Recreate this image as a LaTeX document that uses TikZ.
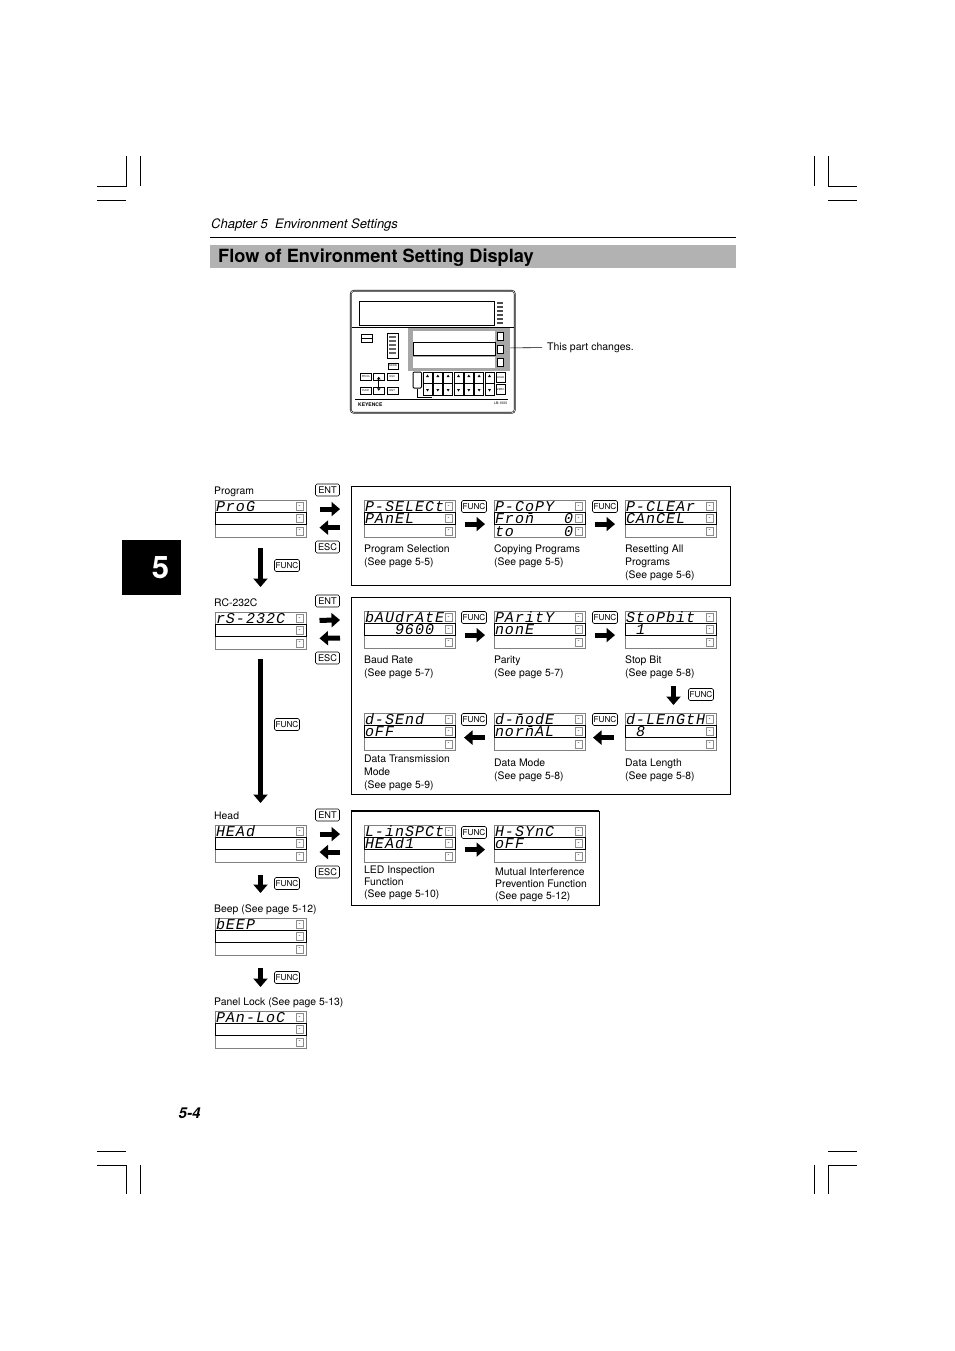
\documentclass[tikz,border=0pt]{standalone}
\usepackage{fontspec}
\setmainfont{TeX Gyre Heros}
\newfontfamily\lcdfont[LetterSpace=6.7]{Liberation Mono}
\usetikzlibrary{arrows.meta,positioning,calc}
\tikzset{
  lcd/row/.style={draw=black!50, line width=0.7pt, outer sep=0pt, inner xsep=1pt, inner ysep=0pt, text width=89pt, align=left, minimum height=12.4pt, text height=10pt, text depth=0pt, font=\lcdfont\itshape\fontsize{15}{15}\selectfont},
  lcd/mid/.style={lcd/row, draw=black, line width=1pt},
  lcd/key/.style={draw=black!45, fill=white, line width=0.5pt, minimum width=6.5pt, minimum height=8pt, inner sep=0pt, font=\fontsize{6}{6}\selectfont},
  flow/panel/.style={draw, line width=0.8pt, anchor=north west, inner sep=0pt},
  flow/arrow/.style={line width=5pt, -{Triangle[length=8.5pt,width=14pt]}},
  flow/caption/.style={inner sep=0pt, align=left, font=\fontsize{10.4}{13}\selectfont},
  flow/label/.style={flow/caption, text depth=2.2pt},
  flow/enter/.style={draw, rounded corners=1.5pt, line width=0.6pt, minimum width=24pt, minimum height=12pt, inner sep=0pt, font=\fontsize{9.2}{9.2}\selectfont},
  flow/func/.style={flow/enter, minimum width=25pt, font=\fontsize{8.2}{8.2}\selectfont},
  dev/box/.style={draw, line width=0.5pt, anchor=north west, inner sep=0pt, font=\fontsize{2.6}{3}\selectfont},
  dev/row/.style={dev/box, fill=white, minimum width=82pt},
  page/crop/.style={line width=0.5pt}
}
\newcommand{\lcdcell}{\hspace*{10pt}}
\newcommand{\lcdpanel}[6]{%
  \node[lcd/row, anchor=north west] (#1-top) at (#2,#3) {#4};
  \node[lcd/row, below=12.4pt of #1-top] (#1-bot) {#6};
  \node[lcd/mid, below=0pt of #1-top] (#1-mid) {#5};
  \node[lcd/key, left=3pt of #1-top.east] (#1-topkey) {-};
  \node[lcd/key, left=3pt of #1-mid.east] (#1-midkey) {-};
  \node[lcd/key, left=3pt of #1-bot.east] (#1-botkey) {-};
}

\begin{document}
\begin{tikzpicture}[x=1pt,y=-1pt]
  \useasboundingbox (0,0) rectangle (954,1351);

  \draw[page/crop] (97,186) -- (126,186) -- (126,156) (140,156) -- (140,186) (97,200) -- (126,200);
  \draw[page/crop] (814,156) -- (814,186) (828,156) -- (828,186) -- (857,186) (828,200) -- (857,200);
  \draw[page/crop] (97,1151) -- (126,1151) (97,1165) -- (126,1165) -- (126,1194) (140,1165) -- (140,1194);
  \draw[page/crop] (828,1151) -- (857,1151) (857,1165) -- (828,1165) -- (828,1194) (814,1165) -- (814,1194);

  \node[fill=black, minimum width=59pt, minimum height=55pt, text=white, inner sep=0pt, font=\bfseries\fontsize{31}{31}\selectfont] (tab) at (151.5,567.5) {\hspace{18pt}5};
  \node[anchor=west, inner sep=0pt, font=\itshape\fontsize{13}{13}\selectfont] (chapter) at (211,225) {Chapter 5\ \ Environment Settings};
  \draw[line width=0.6pt] (210,237) -- (736,237);
  \node[fill=black!30, anchor=north west, minimum width=526pt, minimum height=23pt, inner sep=0pt] (titlebar) at (210,245) {};
  \node[anchor=west, inner sep=0pt, font=\bfseries\fontsize{18.2}{18.2}\selectfont] (title) at (218,257.5) {Flow of Environment Setting Display};
  \node[anchor=west, inner sep=0pt, font=\bfseries\itshape\fontsize{15}{15}\selectfont] (pageno) at (178.5,1113) {5-4};

  \node[draw, double, double distance=0.5pt, line width=0.6pt, rounded corners=3pt, anchor=north west, minimum width=164pt, minimum height=122pt] (device) at (350.5,290.5) {};
  \node[dev/box, minimum width=135pt, minimum height=24pt] (devscreen) at (359,300.5) {};
  \draw[line width=0.7pt] (351.5,327.5) -- (514,327.5);
  \foreach \y in {302,306,310,314,318,322}
    \fill[black!70] (497,\y) rectangle (503,\y+1.5);
  \node[fill=black!35, anchor=north west, minimum width=102pt, minimum height=43.5pt, inner sep=0pt] (devarea) at (408,327.5) {};
  \node[dev/row, draw=none, minimum height=10.5pt] (devtop) at (412.5,331) {};
  \node[dev/row, line width=1pt, minimum height=13pt] (devmid) at (412.5,342) {};
  \node[dev/row, draw=none, minimum height=10.5pt] (devbot) at (412.5,357) {};
  \node[dev/box, fill=white, minimum width=6pt, minimum height=8pt] (devkeya) at (497,332) {};
  \node[dev/box, fill=white, minimum width=6pt, minimum height=8pt] (devkeyb) at (497,344.5) {};
  \node[dev/box, fill=white, minimum width=6pt, minimum height=8pt] (devkeyc) at (497,358) {};
  \node[anchor=west, inner sep=0pt, font=\fontsize{10.5}{13}\selectfont] (changes) at (547,347.5) {This part changes.};
  \draw[line width=0.6pt, shorten >=5pt] ([yshift=1.5pt]devarea.east) -- (changes.west);

  \node[dev/box, minimum width=11.5pt, minimum height=8pt] (devserial) at (360.5,334) {};
  \draw[line width=0.5pt] (devserial.west) -- (devserial.east);
  \node[dev/box, line width=1pt, minimum width=11pt, minimum height=25pt] (devlevel) at (386.5,333) {};
  \foreach \y in {336,340,344,348,352}
    \fill[black!60] (388.5,\y) rectangle (396,\y+1.5);
  \node[dev/box, minimum width=10pt, minimum height=5.5pt] (devmode) at (388,363) {MODE};
  \node[dev/box, minimum width=11pt, minimum height=7pt] (devprog) at (360,373) {PROG};
  \node[dev/box, minimum width=11pt, minimum height=7pt] (devup) at (373,373) {};
  \node[dev/box, minimum width=11pt, minimum height=7pt] (devesc) at (386.5,373) {ESC};
  \node[dev/box, minimum width=11pt, minimum height=7pt] (devfunc) at (360,387) {FUNC};
  \node[dev/box, minimum width=11pt, minimum height=7pt] (devdown) at (373,387) {};
  \node[dev/box, minimum width=11pt, minimum height=7pt] (devent) at (386.5,387) {ENT};
  \draw[line width=1pt, {Triangle[length=2.5pt,width=3.5pt]}-{Triangle[length=2.5pt,width=3.5pt]}] (devup.center) -- (devdown.center);
  \node[dev/box, line width=1pt, rounded corners=1pt, minimum width=8.5pt, minimum height=16pt] (devseg) at (412.5,371.5) {};
  \draw[line width=0.4pt] (devseg.south) |- (432,397);
  \foreach \x in {423,433.3,443.6,454,464.3,474.6,485} {
    \draw[line width=0.5pt] (\x,372) rectangle ++(9,11.5) (\x,383.5) rectangle ++(9,11.5);
    \fill (\x+3,377) -- (\x+6,377) -- (\x+4.5,374.5) -- cycle;
    \fill (\x+3,389) -- (\x+6,389) -- (\x+4.5,391.5) -- cycle;
  }
  \node[dev/box, minimum width=9pt, minimum height=10pt] (devhold) at (496,372) {HOLD};
  \node[dev/box, minimum width=9pt, minimum height=10pt] (devzero) at (496,384) {ZERO};
  \draw[line width=0.7pt] (355,399) -- (508,399);
  \node[anchor=west, inner sep=0pt, font=\bfseries\fontsize{5}{5}\selectfont] (keyence) at (358,404.5) {KEYENCE};
  \node[anchor=east, inner sep=0pt, font=\fontsize{3.5}{4}\selectfont] (model) at (507.5,403) {LB-1000};

  \node[flow/panel, minimum width=378.5pt, minimum height=98.5pt] (progpanel) at (351,486) {};
  \node[flow/panel, minimum width=378.5pt, minimum height=196.5pt] (rspanel) at (351,597) {};
  \node[flow/panel, minimum width=247.5pt, minimum height=93.5pt] (headpanel) at (351,811) {};
  \draw[line width=1.3pt] (headpanel.north west) -- (headpanel.north east);

  \lcdpanel{prog}{215}{500}{ProG}{}{}
  \lcdpanel{rsc}{215}{612}{rS-232C}{}{}
  \lcdpanel{head}{215}{825}{HEAd}{}{}
  \lcdpanel{beep}{215}{918}{bEEP}{}{}
  \lcdpanel{panlock}{215}{1011}{PAn-LoC}{}{}
  \lcdpanel{pselect}{364}{500}{P-SELECt}{PAnEL}{}
  \lcdpanel{pcopy}{494}{500}{P-CoPY}{Fro\=n\lcdcell\lcdcell\lcdcell 0}{to\lcdcell\lcdcell\lcdcell\lcdcell\lcdcell 0}
  \lcdpanel{pclear}{625}{500}{P-CLEAr}{CAnCEL}{}
  \lcdpanel{baud}{364}{611}{bAUdrAtE}{\lcdcell\lcdcell\lcdcell 9600}{}
  \lcdpanel{parity}{494}{611}{PAritY}{nonE}{}
  \lcdpanel{stopbit}{625}{611}{StoPbit}{\lcdcell 1}{}
  \lcdpanel{dsend}{364}{713}{d-SEnd}{oFF}{}
  \lcdpanel{dmode}{494}{713}{d-\=nodE}{nor\=nAL}{}
  \lcdpanel{dlength}{625}{713}{d-LEnGtH}{\lcdcell 8}{}
  \lcdpanel{linspect}{364}{825}{L-inSPCt}{HEAd1}{}
  \lcdpanel{hsync}{494}{825}{H-SYnC}{oFF}{}

  \node[flow/label, above right=3.5pt and -1pt of prog-top.north west] (proglabel) {Program};
  \node[flow/label, above right=3.5pt and -1pt of rsc-top.north west] (rsclabel) {RC-232C};
  \node[flow/label, above right=3.5pt and -1pt of head-top.north west] (headlabel) {Head};
  \node[flow/label, above right=3pt and -1pt of beep-top.north west] (beeplabel) {Beep (See page 5-12)};
  \node[flow/label, above right=3pt and -1pt of panlock-top.north west] (panlocklabel) {Panel Lock (See page 5-13)};

  \node[flow/caption, below right=7pt and 0pt of pselect-bot.south west] (pselecttext) {Program Selection\\(See page 5-5)};
  \node[flow/caption, below right=7pt and 0pt of pcopy-bot.south west] (pcopytext) {Copying Programs\\(See page 5-5)};
  \node[flow/caption, below right=7.5pt and 0pt of pclear-bot.south west] (pcleartext) {Resetting All\\Programs\\(See page 5-6)};
  \node[flow/caption, below right=7.5pt and 0pt of baud-bot.south west] (baudtext) {Baud Rate\\(See page 5-7)};
  \node[flow/caption, below right=7.5pt and 0pt of parity-bot.south west] (paritytext) {Parity\\(See page 5-7)};
  \node[flow/caption, below right=7.5pt and 0pt of stopbit-bot.south west] (stopbittext) {Stop Bit\\(See page 5-8)};
  \node[flow/caption, below right=5pt and 0pt of dsend-bot.south west] (dsendtext) {Data Transmission\\Mode\\(See page 5-9)};
  \node[flow/caption, below right=8.5pt and 0pt of dmode-bot.south west] (dmodetext) {Data Mode\\(See page 5-8)};
  \node[flow/caption, below right=8.5pt and 0pt of dlength-bot.south west] (dlengthtext) {Data Length\\(See page 5-8)};
  \node[flow/caption, below right=4pt and 0pt of linspect-bot.south west, font=\fontsize{10.4}{12}\selectfont] (linspecttext) {LED Inspection\\Function\\(See page 5-10)};
  \node[flow/caption, below right=5.5pt and 1pt of hsync-bot.south west, font=\fontsize{10.4}{12}\selectfont] (hsynctext) {Mutual Interference\\Prevention Function\\(See page 5-12)};

  \node[flow/enter] (progent) at (327.5,490) {ENT};
  \node[flow/enter] (progesc) at (327.5,547) {ESC};
  \node[flow/enter] (rscent) at (327.5,601) {ENT};
  \node[flow/enter] (rscesc) at (327.5,658) {ESC};
  \node[flow/enter] (headent) at (327.5,815) {ENT};
  \node[flow/enter] (headesc) at (327.5,872) {ESC};
  \node[flow/func] (progfunc) at (287,565.5) {FUNC};
  \node[flow/func] (rscfunc) at (287,724.5) {FUNC};
  \node[flow/func] (headfunc) at (287,883.5) {FUNC};
  \node[flow/func] (beepfunc) at (287,977.5) {FUNC};
  \node[flow/func] (pselectfunc) at (474,506.5) {FUNC};
  \node[flow/func] (pcopyfunc) at (605,506.5) {FUNC};
  \node[flow/func] (baudfunc) at (474,617.5) {FUNC};
  \node[flow/func] (parityfunc) at (605,617.5) {FUNC};
  \node[flow/func] (stopbitfunc) at (701,694.5) {FUNC};
  \node[flow/func] (dsendfunc) at (474,719.5) {FUNC};
  \node[flow/func] (dmodefunc) at (605,719.5) {FUNC};
  \node[flow/func] (linspectfunc) at (474,832.5) {FUNC};

  \draw[flow/arrow, shorten <=11pt, shorten >=25pt] (prog-bot.south) -- (rsc-top.north);
  \draw[flow/arrow, shorten <=10pt, shorten >=22pt] (rsc-bot.south) -- (head-top.north);
  \draw[flow/arrow, shorten <=13pt, shorten >=25pt] (head-bot.south) -- (beep-top.north);
  \draw[flow/arrow, shorten <=13pt, shorten >=24pt] (beep-bot.south) -- (panlock-top.north);

  \draw[flow/arrow, shorten <=13.5pt, shorten >=24pt] ([yshift=9.5pt]prog-mid.east) -- ([yshift=9.5pt]pselect-mid.west);
  \draw[flow/arrow, shorten <=24pt, shorten >=13.5pt] ([yshift=-9pt]pselect-mid.west) -- ([yshift=-9pt]prog-mid.east);
  \draw[flow/arrow, shorten <=13.5pt, shorten >=24pt] ([yshift=10pt]rsc-mid.east) -- ([yshift=10pt]baud-mid.west);
  \draw[flow/arrow, shorten <=24pt, shorten >=13.5pt] ([yshift=-8pt]baud-mid.west) -- ([yshift=-8pt]rsc-mid.east);
  \draw[flow/arrow, shorten <=13.5pt, shorten >=24pt] ([yshift=9.5pt]head-mid.east) -- ([yshift=9.5pt]linspect-mid.west);
  \draw[flow/arrow, shorten <=24pt, shorten >=13.5pt] ([yshift=-8.5pt]linspect-mid.west) -- ([yshift=-8.5pt]head-mid.east);

  \draw[flow/arrow, shorten <=9.5pt, shorten >=9pt] ([yshift=-5.5pt]pselect-mid.east) -- ([yshift=-5.5pt]pcopy-mid.west);
  \draw[flow/arrow, shorten <=9.5pt, shorten >=10pt] ([yshift=-5.5pt]pcopy-mid.east) -- ([yshift=-5.5pt]pclear-mid.west);
  \draw[flow/arrow, shorten <=9.5pt, shorten >=9pt] ([yshift=-5.5pt]baud-mid.east) -- ([yshift=-5.5pt]parity-mid.west);
  \draw[flow/arrow, shorten <=9.5pt, shorten >=10pt] ([yshift=-5.5pt]parity-mid.east) -- ([yshift=-5.5pt]stopbit-mid.west);
  \draw[flow/arrow, shorten <=38pt, shorten >=8pt] ([xshift=3pt]stopbit-bot.south) -- ([xshift=3pt]dlength-top.north);
  \draw[flow/arrow, shorten <=11pt, shorten >=8pt] ([yshift=-6pt]dlength-mid.west) -- ([yshift=-6pt]dmode-mid.east);
  \draw[flow/arrow, shorten <=9pt, shorten >=9pt] ([yshift=-6pt]dmode-mid.west) -- ([yshift=-6pt]dsend-mid.east);
  \draw[flow/arrow, shorten <=9.5pt, shorten >=9pt] ([yshift=-6pt]linspect-mid.east) -- ([yshift=-6pt]hsync-mid.west);
\end{tikzpicture}
\end{document}
